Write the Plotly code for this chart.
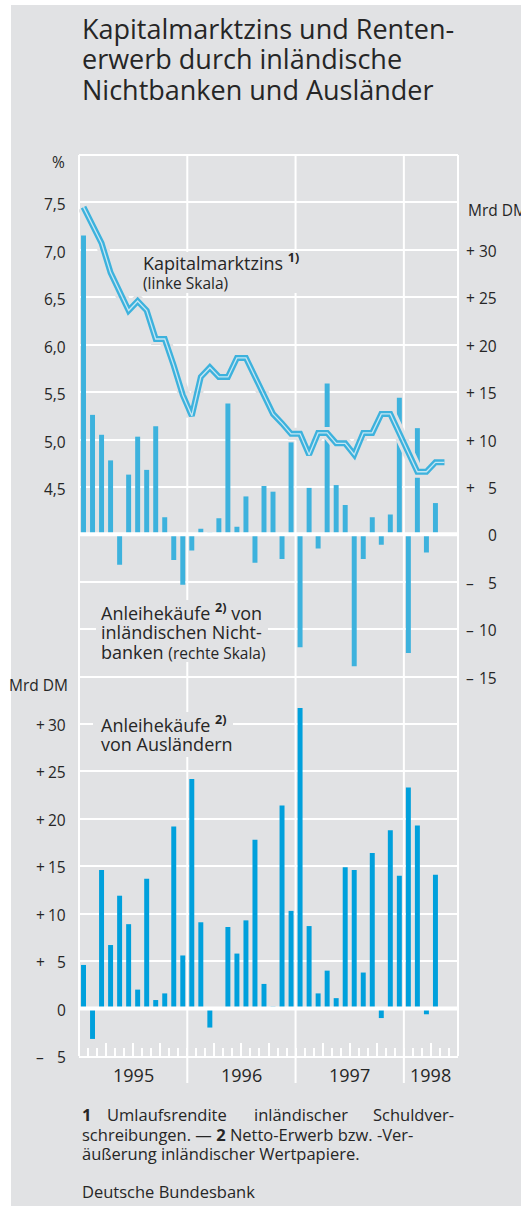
import plotly.graph_objects as go

# ---------------- data ----------------
years = [1995, 1996, 1997, 1998]
months = [f"{y}-{m:02d}" for y in years for m in range(1, 13)][:42]  # Jan 1995 .. Jun 1998 (axis span)

# Kapitalmarktzins (Umlaufsrendite), % , Jan 1995 .. May 1998
rate = [7.45, 7.26, 7.07, 6.76, 6.56, 6.36, 6.46, 6.36, 6.06, 6.06,
        5.78, 5.47, 5.25, 5.66, 5.76, 5.66, 5.66, 5.86, 5.86, 5.66,
        5.47, 5.27, 5.17, 5.06, 5.06, 4.84, 5.07, 5.07, 4.96, 4.96,
        4.84, 5.07, 5.07, 5.27, 5.27, 5.06, 4.86, 4.66, 4.66, 4.76,
        4.76]

# Anleihekäufe inländischer Nichtbanken, Mrd DM, Jan 1995 .. Apr 1998
domestic = [31.5, 12.6, 10.5, 7.8, -3.2, 6.3, 10.3, 6.8, 11.4, 1.8,
            -2.7, -5.3, -1.7, 0.6, 0.2, 1.7, 13.8, 0.8, 4.0, -3.0,
            5.1, 4.5, -2.6, 9.7, -11.9, 4.9, -1.5, 15.9, 5.2, 3.1,
            -13.9, -2.6, 1.8, -1.1, 2.1, 14.4, -12.5, 11.2, -1.9, 3.3]

# Anleihekäufe von Ausländern, Mrd DM, Jan 1995 .. Apr 1998
foreign = [4.6, -3.2, 14.6, 6.7, 11.9, 8.9, 2.0, 13.7, 0.9, 1.6,
           19.2, 5.6, 24.2, 9.1, -2.0, 0.0, 8.6, 5.8, 9.3, 17.8,
           2.6, 0.2, 21.4, 10.3, 31.7, 8.7, 1.6, 4.0, 1.1, 14.9,
           14.6, 3.8, 16.4, -1.0, 18.8, 14.0, 23.3, 19.3, -0.6, 14.1]

pct_ticks = [7.5, 7.0, 6.5, 6.0, 5.5, 5.0, 4.5]
right_ticks = [30, 25, 20, 15, 10, 5, 0, -5, -10, -15]
lower_ticks = [30, 25, 20, 15, 10, 5, 0, -5]
year_labels = ["1995", "1996", "1997", "1998"]

# ---------------- styling ----------------
BG = "#e1e2e4"
C_UP = "#3db2dd"
C_LO = "#00a0dc"
TXT = "#262626"
FONT = "Open Sans"

W, H = 521, 1206
L, R, T, B = 79, 63, 155, 150
pw, ph = W - L - R, H - T - B


def px(x):
    return (x - L) / pw


def py(y):
    return (H - B - y) / ph


split = 37.5 / 95.0

idx = list(range(len(months)))
xr = idx[:len(rate)]
xb = idx[:len(domestic)]

fig = go.Figure()
fig.add_trace(go.Bar(x=xb, y=domestic, width=0.55, marker=dict(color=C_UP, line=dict(width=0)),
                     xaxis="x", yaxis="y", name="Inländische Nichtbanken",
                     customdata=months[:len(domestic)], hovertemplate="%{customdata}: %{y}<extra></extra>"))
fig.add_trace(go.Bar(x=xb, y=foreign, width=0.55, marker=dict(color=C_LO, line=dict(width=0)),
                     xaxis="x", yaxis="y2", name="Ausländer",
                     customdata=months[:len(foreign)], hovertemplate="%{customdata}: %{y}<extra></extra>"))
# interest rate: halo, blue band, light centre
fig.add_trace(go.Scatter(x=xr, y=rate, mode="lines", line=dict(color=BG, width=12),
                         xaxis="x", yaxis="y3", hoverinfo="skip"))
fig.add_trace(go.Scatter(x=xr, y=rate, mode="lines", line=dict(color=C_UP, width=6),
                         xaxis="x", yaxis="y3", hoverinfo="skip"))
fig.add_trace(go.Scatter(x=xr, y=rate, mode="lines", line=dict(color="#c6e7f4", width=1.3),
                         xaxis="x", yaxis="y3", name="Kapitalmarktzins",
                         customdata=months[:len(rate)], hovertemplate="%{customdata}: %{y}%<extra></extra>"))

month_bounds = [i - 0.5 for i in range(len(months) + 1)]
quarter_bounds = [b for k, b in enumerate(month_bounds) if k % 3 == 0 and k % 12 != 0]
year_bounds = [b for k, b in enumerate(month_bounds) if k % 12 == 0 and 0 < k < len(months)]

fig.update_layout(
    width=W, height=H,
    margin=dict(l=L, r=R, t=T, b=B, pad=0),
    paper_bgcolor=BG, plot_bgcolor=BG,
    showlegend=False, barmode="overlay",
    font=dict(family=FONT, color=TXT),
    xaxis=dict(anchor="y2", domain=[0, 1], range=[-0.5, len(months) - 0.5],
               showgrid=False, zeroline=False, showticklabels=False,
               showline=True, linecolor="white", linewidth=2,
               ticks="inside", tickmode="array", tickvals=quarter_bounds,
               ticklen=13, tickwidth=1.5, tickcolor="white",
               minor=dict(ticks="inside", tickmode="array", tickvals=month_bounds,
                          ticklen=8, tickwidth=1.5, tickcolor="white", showgrid=False)),
    yaxis=dict(domain=[split, 1], range=[-17.5, 40], side="right",
               tickmode="array", tickvals=[-15, -10, -5, 5, 10, 15, 20, 25, 30, 35],
               showticklabels=False, ticks="", showgrid=True, gridcolor="white", gridwidth=2,
               zeroline=False),
    yaxis3=dict(overlaying="y", range=[2.25, 8.0], side="left", showgrid=False,
                showticklabels=False, zeroline=False, ticks=""),
    yaxis2=dict(domain=[0, split], range=[-5, 32.5], anchor="x",
                tickmode="array", tickvals=[5, 10, 15, 20, 25, 30],
                showticklabels=False, ticks="", showgrid=True, gridcolor="white", gridwidth=2,
                zeroline=False),
)

shapes = []
# white outer strips (left and top)
shapes.append(dict(type="rect", xref="paper", yref="paper", x0=px(-5), x1=px(11), y0=py(1210), y1=py(-5),
                   fillcolor="white", line=dict(width=0), layer="below"))
shapes.append(dict(type="rect", xref="paper", yref="paper", x0=px(-5), x1=px(530), y0=py(5), y1=py(-5),
                   fillcolor="white", line=dict(width=0), layer="below"))
# frame
shapes.append(dict(type="line", xref="paper", yref="paper", x0=0, x1=1, y0=1, y1=1,
                   line=dict(color="white", width=2), layer="below"))
for xx in (0, 1):
    shapes.append(dict(type="line", xref="paper", yref="paper", x0=xx, x1=xx, y0=0, y1=1,
                       line=dict(color="white", width=2), layer="below"))
# year separators (extend below axis)
for b in year_bounds:
    shapes.append(dict(type="line", xref="x", yref="paper", x0=b, x1=b, y0=py(1083), y1=1,
                       line=dict(color="white", width=2), layer="below"))
# zero lines on top of bars
shapes.append(dict(type="line", xref="paper", yref="y", x0=0, x1=1, y0=0, y1=0,
                   line=dict(color="white", width=4), layer="above"))
shapes.append(dict(type="line", xref="paper", yref="y2", x0=0, x1=1, y0=0, y1=0,
                   line=dict(color="white", width=4), layer="above"))
# background patches behind the in-plot labels (hide gridlines there)
for (x0, x1, y0, y1) in [(139, 304, 252, 293), (96, 268, 600, 662), (93, 233, 712, 757)]:
    shapes.append(dict(type="rect", xref="paper", yref="paper", x0=px(x0), x1=px(x1),
                       y0=py(y1), y1=py(y0), fillcolor=BG, line=dict(width=0), layer="above"))
fig.update_layout(shapes=shapes)

ann = []


def cy(baseline, size):
    return py(baseline - 0.388 * size)


def text(x, baseline, s, size, anchor="left", **kw):
    d = dict(x=px(x), y=cy(baseline, size), xref="paper", yref="paper", text=s,
             showarrow=False, xanchor=anchor, yanchor="middle",
             font=dict(family=FONT, size=size, color=TXT))
    d.update(kw)
    ann.append(d)


# title
TS = 27
text(80, 38.5, "Kapitalmarktzins und Renten-", TS)
text(80, 69, "erwerb durch inländische", TS)
text(80, 99.5, "Nichtbanken und Ausländer", TS)

# in-plot labels
LS, SS = 18, 15.5
text(141, 269, "Kapitalmarktzins <sup><b>1)</b></sup>", LS)
text(141, 289, "(linke Skala)", SS)
text(99, 619, "Anleihekäufe <sup><b>2)</b></sup> von", LS)
text(99, 639, "inländischen Nicht-", LS)
text(99, 658.5, 'banken <span style="font-size:15.5px">(rechte Skala)</span>', LS)
text(99, 731, "Anleihekäufe <sup><b>2)</b></sup>", LS)
text(99, 751, "von Ausländern", LS)

# axis unit labels
AS = 15.5
text(67, 168, "%", AS, anchor="right")
text(466, 216, "Mrd DM", AS)
text(70, 691, "Mrd DM", AS, anchor="right")

# left % ticks
for v in pct_ticks:
    ann.append(dict(x=px(68), y=v, xref="paper", yref="y3", text=f"{v:.1f}".replace(".", ","),
                    showarrow=False, xanchor="right", yanchor="middle", yshift=-2,
                    font=dict(family=FONT, size=AS, color=TXT)))


def signed(v):
    return "+" if v > 0 else "–"


# right (upper) ticks
for v in right_ticks:
    ann.append(dict(x=px(499), y=v, xref="paper", yref="y", text=str(abs(v)),
                    showarrow=False, xanchor="right", yanchor="middle", yshift=-1,
                    font=dict(family=FONT, size=AS, color=TXT)))
    if v != 0:
        ann.append(dict(x=px(470), y=v, xref="paper", yref="y", text=signed(v),
                        showarrow=False, xanchor="center", yanchor="middle", yshift=-1,
                        font=dict(family=FONT, size=AS, color=TXT)))
# lower left ticks
for v in lower_ticks:
    ann.append(dict(x=px(68), y=v, xref="paper", yref="y2", text=str(abs(v)),
                    showarrow=False, xanchor="right", yanchor="middle", yshift=-1,
                    font=dict(family=FONT, size=AS, color=TXT)))
    if v != 0:
        ann.append(dict(x=px(40), y=v, xref="paper", yref="y2", text=signed(v),
                        showarrow=False, xanchor="center", yanchor="middle", yshift=-1,
                        font=dict(family=FONT, size=AS, color=TXT)))

# year labels centred in each year's span
for k, lab in enumerate(year_labels):
    first = k * 12
    last = min(first + 11, len(months) - 1)
    ann.append(dict(x=(first + last) / 2, y=py(1075), xref="x", yref="paper", text=lab,
                    showarrow=False, xanchor="center", yanchor="middle",
                    font=dict(family=FONT, size=18, color=TXT)))

# footnotes
FS = 16.5
text(80, 1121, "<b>1</b>", FS)
text(105, 1121, "Umlaufsrendite", FS)
text(252, 1121, "inländischer", FS)
text(456, 1121, "Schuldver-", FS, anchor="right")
text(80, 1140.5, "schreibungen. — <b>2</b> Netto-Erwerb bzw. -Ver-", FS)
text(80, 1160, "äußerung inländischer Wertpapiere.", FS)
text(80, 1198, "Deutsche Bundesbank", FS)

fig.update_layout(annotations=ann)
fig.write_html("out.html", config={"displayModeBar": False},
               post_script="document.body.style.margin='0';document.body.style.overflow='hidden';")
